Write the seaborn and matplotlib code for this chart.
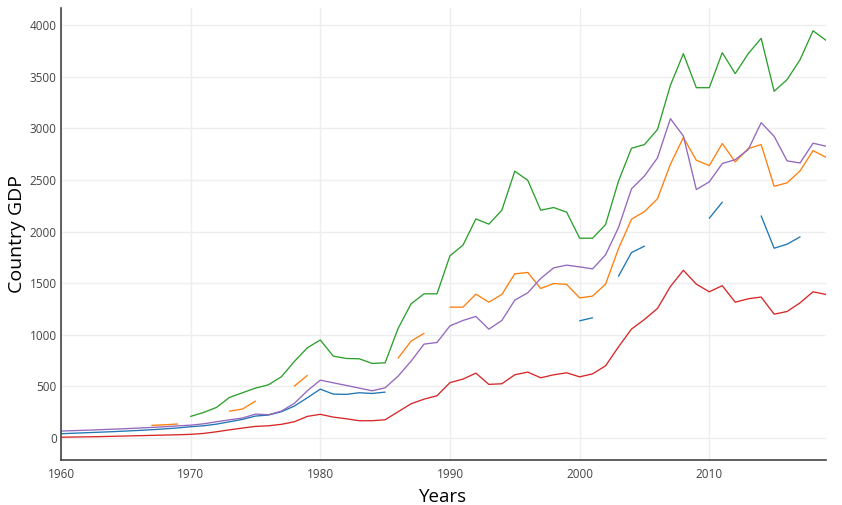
import matplotlib
matplotlib.use("Agg")
import matplotlib.pyplot as plt
import pandas as pd
import seaborn as sns

# Years on the x axis
years = list(range(1960, 2020))

# GDP per series, None where the series has no value (gaps in the lines)
gdp_blue = [
    42, 47, 52, 57, 62, 68, 74, 81, 89, 98,
    110, 119, 135, 158, 181, 213, 223, 255, 310, 390,
    474, 426, 423, 439, 432, 445, None, None, None, None,
    None, None, None, None, None, None, None, None, None, None,
    1136, 1165, None, 1568, 1797, 1859, None, None, None, None,
    2129, 2285, None, None, 2152, 1839, 1878, 1949, None, None,
]
gdp_orange = [
    None, None, None, None, None, None, None, 123, 129, 136,
    None, None, None, 261, 281, 358, None, None, 503, 607,
    None, None, None, None, None, None, 774, 939, 1014, None,
    1268, 1268, 1394, 1316, 1391, 1591, 1604, 1449, 1497, 1488,
    1358, 1375, 1491, 1836, 2120, 2194, 2317, 2652, 2911, 2691,
    2639, 2853, 2675, 2804, 2843, 2439, 2472, 2588, 2784, 2720,
]
gdp_green = [
    None, None, None, None, None, None, None, None, None, None,
    210, 248, 297, 394, 439, 484, 516, 594, 742, 874,
    950, 794, 771, 768, 723, 729, 1062, 1300, 1397, 1397,
    1766, 1868, 2123, 2072, 2207, 2585, 2497, 2207, 2233, 2188,
    1936, 1936, 2068, 2490, 2807, 2843, 2988, 3417, 3723, 3394,
    3394, 3733, 3530, 3723, 3872, 3359, 3472, 3665, 3945, 3853,
]
gdp_red = [
    8, 10, 12, 14, 17, 20, 23, 26, 29, 32,
    36, 45, 61, 80, 97, 113, 119, 133, 158, 210,
    230, 203, 187, 168, 168, 177, 255, 332, 377, 410,
    537, 571, 629, 520, 526, 613, 639, 584, 613, 632,
    593, 622, 700, 884, 1056, 1149, 1255, 1468, 1625, 1491,
    1417, 1476, 1316, 1349, 1366, 1200, 1226, 1310, 1417, 1391,
]
gdp_purple = [
    68, 72, 76, 81, 86, 91, 97, 103, 110, 118,
    125, 138, 158, 177, 194, 232, 226, 261, 336, 458,
    561, 535, 510, 484, 458, 487, 600, 745, 910, 926,
    1087, 1139, 1178, 1055, 1139, 1336, 1407, 1546, 1649, 1675,
    1658, 1639, 1775, 2040, 2414, 2539, 2713, 3094, 2926, 2407,
    2482, 2659, 2697, 2794, 3055, 2923, 2685, 2665, 2856, 2827,
]

series = {
    "blue": gdp_blue,
    "orange": gdp_orange,
    "green": gdp_green,
    "red": gdp_red,
    "purple": gdp_purple,
}
palette = {
    "blue": "#1f77b4",
    "orange": "#ff7f0e",
    "green": "#2ca02c",
    "red": "#d62728",
    "purple": "#9467bd",
}

# long format, with a segment id for every unbroken run so gaps stay open
rows = []
for name, vals in series.items():
    seg = 0
    prev = None
    for yr, v in zip(years, vals):
        if v is None:
            prev = None
            continue
        if prev is None:
            seg += 1
        rows.append((name, f"{name}-{seg}", yr, v))
        prev = v
df = pd.DataFrame(rows, columns=["country", "seg", "year", "gdp"])

sns.set_style("white")
plt.rcParams["font.family"] = ["Open Sans", "DejaVu Sans"]

fig = plt.figure(figsize=(8.42, 5.05), dpi=100)
ax = fig.add_axes([0.0724, 0.089, 0.9086, 0.895])

sns.lineplot(data=df, x="year", y="gdp", hue="country", units="seg",
             estimator=None, palette=palette, linewidth=0.95,
             legend=False, ax=ax)

ax.set_xlim(1960, 2019)
ax.set_ylim(-213, 4165)
ax.set_xticks(range(1960, 2020, 10))
ax.set_yticks(range(0, 4001, 500))
ax.grid(True, color="#eeeeee", linewidth=1)
ax.set_axisbelow(True)

for s in ["top", "right"]:
    ax.spines[s].set_visible(False)
for s in ["left", "bottom"]:
    ax.spines[s].set_color("#444444")
    ax.spines[s].set_linewidth(1.2)

ax.tick_params(axis="both", length=0, labelsize=8.5, labelcolor="#444444")
ax.tick_params(axis="x", pad=6)
ax.tick_params(axis="y", pad=3)

ax.set_xlabel("Years", fontsize=13.5, color="black", labelpad=5)
ax.set_ylabel("Country GDP", fontsize=14, color="black", labelpad=3)

fig.savefig("out.png", dpi=100)
